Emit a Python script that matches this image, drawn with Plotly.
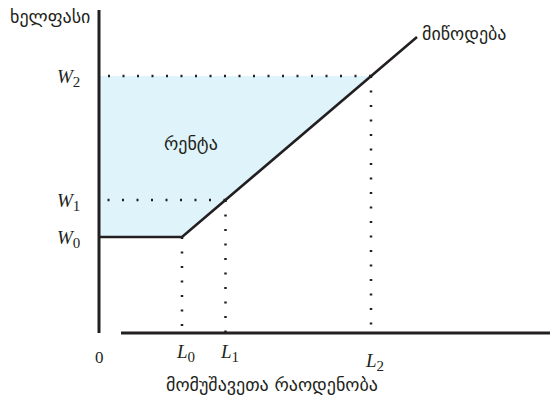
import plotly.graph_objects as go

# Economic values (arbitrary units)
L_names = ["L<sub>0</sub>", "L<sub>1</sub>", "L<sub>2</sub>"]
L_values = [8.3, 12.65, 27.2]
W_names = ["W<sub>0</sub>", "W<sub>1</sub>", "W<sub>2</sub>"]
W_values = [9.6, 13.3, 25.7]
supply_L = [0, 8.3, 31.8]
supply_W = [9.6, 9.6, 29.6]
axis_top = 32.3
axis_x_start = 2.2
axis_x_end = 46.0

INK = "#231f20"
SHADE = "#dff3fb"

fig = go.Figure()

# shaded rent area
fig.add_trace(go.Scatter(
    x=[0, L_values[0], L_values[2], 0, 0],
    y=[W_values[0], W_values[0], W_values[2], W_values[2], W_values[0]],
    fill="toself", fillcolor=SHADE, line=dict(width=0), mode="lines",
    hoverinfo="skip", showlegend=False))

dot = dict(color=INK, width=2.5, dash="2px,12.5px")
# horizontal dotted guides (W1, W2), drawn from the corner toward the axis
for Lv, Wv in [(L_values[1], W_values[1]), (L_values[2], W_values[2])]:
    fig.add_trace(go.Scatter(x=[Lv, 0], y=[Wv, Wv], mode="lines", line=dot,
                             hoverinfo="skip", showlegend=False))
# vertical dotted guides
for Lv, Wv in zip(L_values, W_values):
    fig.add_trace(go.Scatter(x=[Lv, Lv], y=[Wv, 0], mode="lines", line=dot,
                             hoverinfo="skip", showlegend=False))

# supply curve
fig.add_trace(go.Scatter(x=supply_L, y=supply_W, mode="lines",
                         line=dict(color=INK, width=2.6),
                         hoverinfo="skip", showlegend=False))

# axes
fig.add_trace(go.Scatter(x=[0, 0], y=[0, axis_top], mode="lines",
                         line=dict(color=INK, width=3), hoverinfo="skip", showlegend=False))
fig.add_trace(go.Scatter(x=[axis_x_start, axis_x_end], y=[0, 0], mode="lines",
                         line=dict(color=INK, width=3), hoverinfo="skip", showlegend=False))

geo = dict(family="DejaVu Sans", size=18, color=INK)
ital = dict(family="Liberation Serif", size=19, color=INK)


def math_label(name):
    base, sub = name.replace("</sub>", "").split("<sub>")
    return "<i>" + base + "</i><sub><span style='font-size:15px'>" + sub + "</span></sub>"


ann = []
ann.append(dict(x=-4.9, y=31.7, text="ხელფასი", font=geo, xanchor="center", yanchor="middle"))
ann.append(dict(x=32.1, y=30.0, text="მიწოდება", font=geo, xanchor="left", yanchor="middle"))
ann.append(dict(x=9.2, y=19.0, text="რენტა", font=geo, xanchor="center", yanchor="middle"))
ann.append(dict(x=17.3, y=-5.1, text="მომუშავეთა რაოდენობა", font=geo, xanchor="center", yanchor="middle"))
ann.append(dict(x=0, y=-2.4, text="0", font=dict(family="Liberation Serif", size=17, color=INK),
                xanchor="center", yanchor="middle"))
for name, Wv in zip(W_names, W_values):
    ann.append(dict(x=-3.1, y=Wv - 0.2, text=math_label(name),
                    font=ital, xanchor="center", yanchor="middle"))
L_label_y = [-2.0, -2.0, -2.9]
for name, Lv, ly in zip(L_names, L_values, L_label_y):
    ann.append(dict(x=Lv + 0.35, y=ly, text=math_label(name),
                    font=ital, xanchor="center", yanchor="middle"))
for a in ann:
    a.update(xref="x", yref="y", showarrow=False)

fig.update_layout(
    width=550, height=404,
    margin=dict(l=0, r=0, t=0, b=0),
    paper_bgcolor="white", plot_bgcolor="white",
    xaxis=dict(range=[-9.9, 45.1], visible=False, fixedrange=True),
    yaxis=dict(range=[-7.1, 33.3], visible=False, fixedrange=True),
    annotations=ann,
    showlegend=False,
)

fig.write_html("out.html", config={"displayModeBar": False},
               post_script="document.body.style.margin='0px';document.body.style.overflow='hidden';")
